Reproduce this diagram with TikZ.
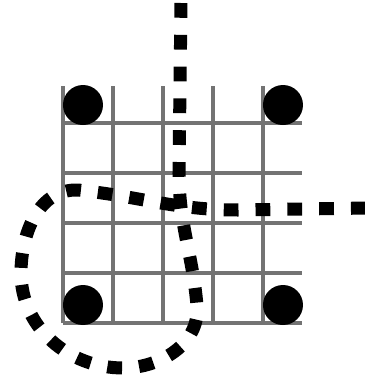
\documentclass[tikz,border=0pt]{standalone}
\usepackage{tikz}
\usetikzlibrary{positioning}

\begin{document}
\begin{tikzpicture}[
    gridline/.style={draw=black!55, line width=2.3pt},
    stone/.style={circle, fill=black, minimum size=0.8cm, inner sep=0pt},
    route/.style={line width=7.4pt, dash pattern=on 8.4pt off 9.7pt}]

    \useasboundingbox (-1.26,-1.06) rectangle (6.04,6.46);

    % Grid - vertical lines
    \draw[gridline] (0,0) -- (0,4.74);
    \draw[gridline] (1,0) -- (1,4.74);
    \draw[gridline] (2,0) -- (2,4.74);
    \draw[gridline] (3,0) -- (3,4.74);
    \draw[gridline] (4,0) -- (4,4.74);
    % Grid - horizontal lines
    \draw[gridline] (0,0) -- (4.78,0);
    \draw[gridline] (0,1) -- (4.78,1);
    \draw[gridline] (0,2) -- (4.78,2);
    \draw[gridline] (0,3) -- (4.78,3);
    \draw[gridline] (0,4) -- (4.78,4);

    % Stones
    \node[stone] (tl) at (0.4,4.36) {};
    \node[stone] (tr) at (4.4,4.36) {};
    \node[stone] (bl) at (0.4,0.36) {};
    \node[stone] (br) at (4.4,0.36) {};

    % Route
    \coordinate (top) at (2.36,6.4);
    \coordinate (mid) at (2.32,3.0);
    \coordinate (low) at (2.68,0.35);
    \coordinate (bot) at (1.2,-0.9);
    \coordinate (left) at (-0.84,1.0);
    \coordinate (loop) at (0.3,2.66);
    \coordinate (east) at (3.5,2.26);
    \coordinate (exit) at (6.1,2.3);
    \draw[route] (top) -- (mid) to[out=-90,in=95] (low)
        to[out=-85,in=0] (bot) to[out=180,in=-90] (left)
        to[out=90,in=178] (loop) to[out=-6,in=180] (east) -- (exit);
\end{tikzpicture}
\end{document}
